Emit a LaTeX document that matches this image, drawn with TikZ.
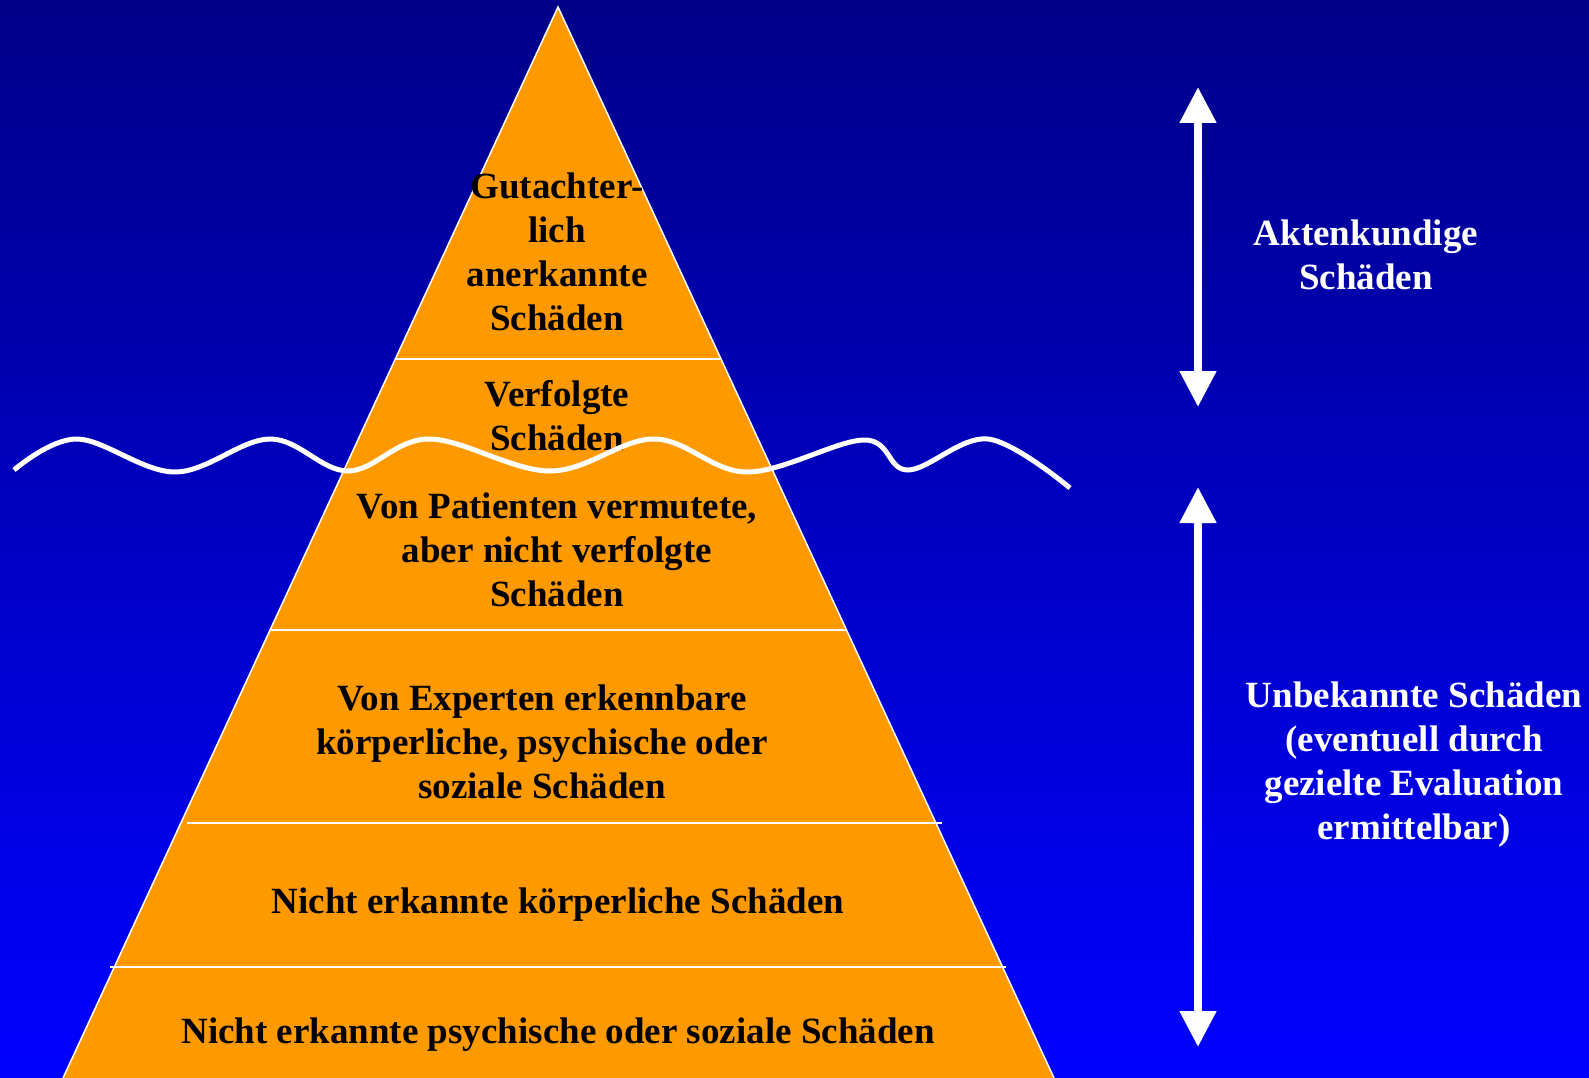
\documentclass[tikz,border=0pt]{standalone}
\usepackage{fontspec}
\setmainfont{Liberation Serif}
\usetikzlibrary{arrows.meta}
\definecolor{seatop}{RGB}{0,0,136}
\definecolor{seabottom}{RGB}{0,0,255}
\definecolor{berg}{RGB}{255,153,0}

\begin{document}
\begin{tikzpicture}[x=1pt, y=-1pt,
  layertext/.style={font=\fontsize{37}{44}\selectfont\bfseries, align=center, inner sep=0pt, text=black},
  sidetext/.style={layertext, text=white},
  divider/.style={white, line width=1.5pt},
  span/.style={white, line width=8pt, {Triangle[width=35pt,length=36pt]}-{Triangle[width=35pt,length=36pt]}}]
  % sea
  \shade[top color=seatop, bottom color=seabottom] (0, 0) rectangle (1589, 1078);
  \useasboundingbox (0, 0) rectangle (1589, 1078);
  % iceberg
  \coordinate (apex) at (558, 7);
  \coordinate (bl) at (63, 1078);
  \coordinate (br) at (1054, 1078);
  \fill[berg] (apex) -- (bl) -- (br) -- cycle;
  \draw[white, line width=1.5pt] (bl) -- (apex) -- (br);
  \draw[divider] (395, 359) -- (720, 359);
  \draw[divider] (270, 630) -- (846, 630);
  \draw[divider] (187, 823) -- (942, 823);
  \draw[divider] (110, 967) -- (1006, 967);
  % layers
  \node[layertext] (gutachter) at (557, 252) {Gutachter-\\lich\\anerkannte\\Schäden};
  \node[layertext] (verfolgt) at (557, 416) {Verfolgte\\Schäden};
  \node[layertext] (vermutet) at (557, 550) {Von Patienten vermutete,\\aber nicht verfolgte\\Schäden};
  \node[layertext] (experten) at (542, 742) {Von Experten erkennbare\\körperliche, psychische oder\\soziale Schäden};
  \node[layertext] (koerper) at (558, 905) {Nicht erkannte körperliche Schäden};
  \node[layertext] (psyche) at (558, 1035) {Nicht erkannte psychische oder soziale Schäden};
  % water line
  \draw[white, line width=5pt, smooth, tension=0.6] plot coordinates {
    (14, 470) (77, 439) (175, 472) (270, 439) (348, 471) (429, 439) (550, 471)
    (654, 439) (747, 472) (864, 440) (908, 470) (988, 439) (1070, 488)};
  % sides
  \coordinate (akten top) at (1198, 87);
  \coordinate (akten bottom) at (1198, 407);
  \coordinate (unbek top) at (1198, 487);
  \coordinate (unbek bottom) at (1198, 1047);
  \draw[span] (akten top) -- (akten bottom);
  \draw[span] (unbek top) -- (unbek bottom);
  \node[sidetext] (akten) at (1366, 255) {Aktenkundige\\Schäden};
  \node[sidetext] (unbek) at (1414, 765) {Unbekannte Schäden\\(eventuell durch\\gezielte Evaluation\\ermittelbar)};
\end{tikzpicture}
\end{document}
